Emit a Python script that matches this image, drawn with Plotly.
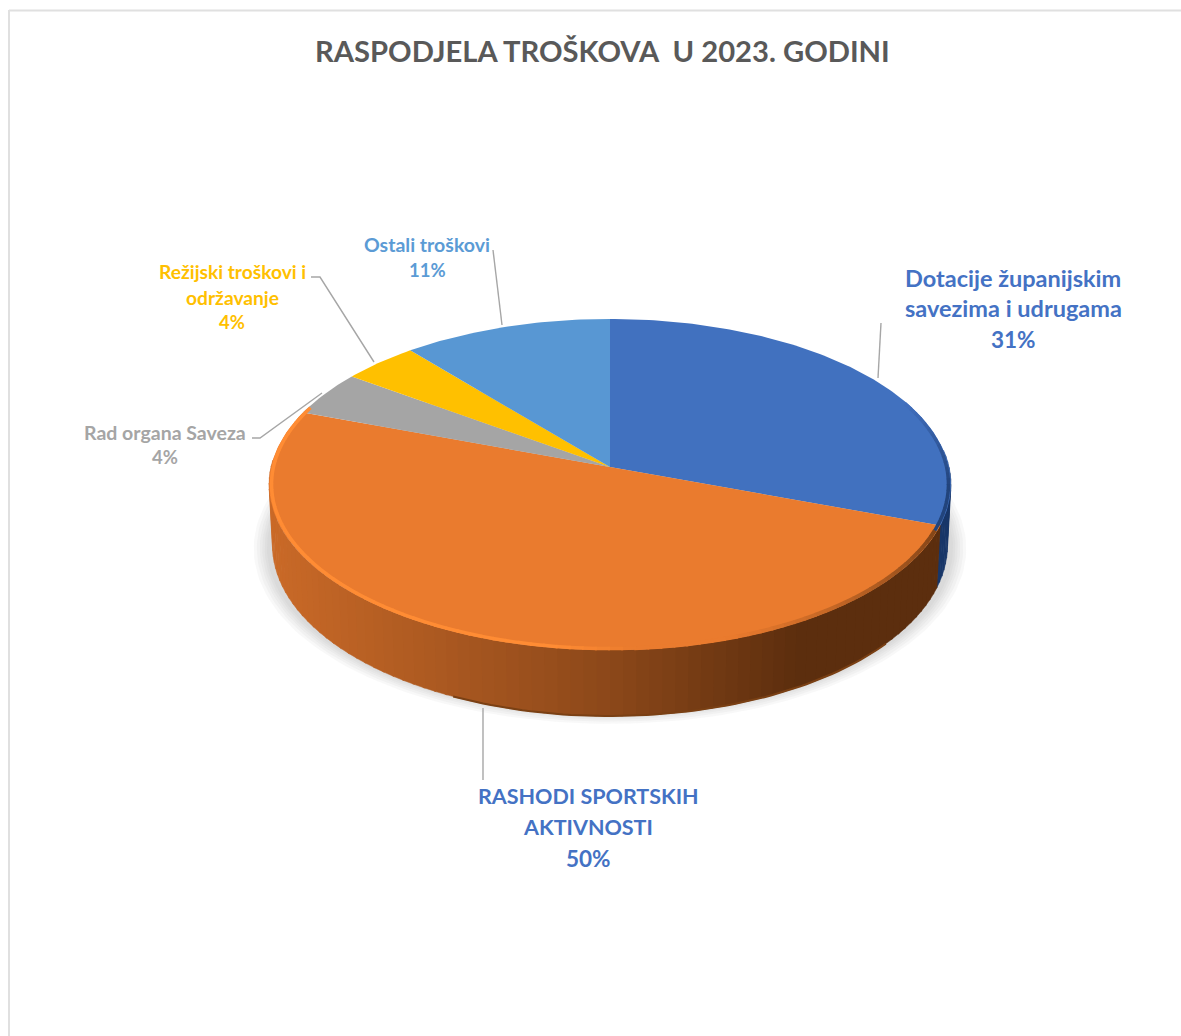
import numpy as np
import plotly.graph_objects as go

# ---- data ----
categories = ["Dotacije županijskim savezima i udrugama", "RASHODI SPORTSKIH AKTIVNOSTI",
              "Rad organa Saveza", "Režijski troškovi i održavanje", "Ostali troškovi"]
values = [30.6, 50.0, 4.4, 4.0, 11.0]
slice_colors = ["#4171BF", "#EA7B2E", "#A5A5A5", "#FFC000", "#5897D3"]
title_text = "RASPODJELA TROŠKOVA  U 2023. GODINI"

# label layout: category index, text lines (the last line, the percent, is added from values)
label_lines = {
    0: ["Dotacije županijskim", "savezima i udrugama"],
    1: ["RASHODI SPORTSKIH", "AKTIVNOSTI"],
    2: ["Rad organa Saveza"],
    3: ["Režijski troškovi i", "održavanje"],
    4: ["Ostali troškovi"],
}
label_pos = {0: (1013, [278, 308, 339]), 1: (588, [796, 827, 858]), 2: (165, [432, 457]),
             3: (232, [271, 297, 322]), 4: (427, [244, 270])}
label_color = {0: "#4472C4", 1: "#4472C4", 2: "#A5A5A5", 3: "#FFC000", 4: "#5B9BD5"}
label_size = {0: 23.5, 1: 21.5, 2: 19.5, 3: 19.2, 4: 19.5}
percent_size = {0: 22.5, 1: 22.5, 2: 18.5, 3: 18.5, 4: 18.5}
leaders = [[(878, 378), (881, 323)], [(483, 708), (483, 780)],
           [(252, 438), (260, 438), (322, 393)], [(311, 277), (320, 277), (374, 362)],
           [(493, 250), (502, 325)]]

# ---- projection of the tilted disc ----
CX, CY, R, K, P = 610, 467, 339, 163.7, 0.1057
BOTTOM_X = 0.99


def proj(theta_deg, r=1.0, dy=0.0, sx=1.0):
    t = np.radians(theta_deg)
    u, v = r * np.sin(t), -r * np.cos(t)
    s = 1 / (1 - P * v)
    return CX + R * u * s * sx, CY + K * v * s + dy


def wall_dy(theta_deg):
    v = -np.cos(np.radians(theta_deg))
    return 60 + 6 * np.maximum(v, 0)


def mix(a, b, f):
    f = float(np.clip(f, 0, 1))
    c = [a[i] + (b[i] - a[i]) * f for i in range(3)]
    return "rgb(%d,%d,%d)" % tuple(c)


def poly(x, y, color, line=0):
    return go.Scatter(x=list(x), y=list(y), mode="lines", fill="toself", fillcolor=color,
                      line=dict(width=line, color=color), hoverinfo="skip", showlegend=False)


fig = go.Figure()

edges = 360 * np.cumsum([0] + values) / sum(values)

# soft shadow under the disc
full = np.linspace(0, 360, 241)
for grow in [1.045, 1.036, 1.027, 1.02, 1.013, 1.006]:
    x, y = proj(full, r=1.0)
    x = CX + (x - CX) * grow
    y = (CY + 62) + (y - CY) * (1 + (grow - 1) * 1.3) + 1
    fig.add_trace(poly(x, y, "rgba(150,150,150,0.07)"))

# side wall, coloured by horizontal position
step = 2.0
th_vis = np.arange(84, 272, step)
for a in th_vis:
    b = a + step + 0.4
    ts = np.linspace(a, b, 3)
    xt, yt = proj(ts)
    xb, yb = proj(ts, dy=wall_dy(ts), sx=BOTTOM_X)
    xm = xt.mean()
    if a + step / 2 < edges[1]:
        col = mix((50, 90, 160), (24, 54, 104), (a - 80) / 16)
    else:
        if xm > 800:
            col = "rgb(92,46,14)"
        elif xm > 610:
            col = mix((92, 46, 14), (140, 72, 26), (800 - xm) / 190)
        else:
            col = mix((140, 72, 26), (202, 106, 40), (610 - xm) / 340)
    fig.add_trace(poly(np.r_[xt, xb[::-1]], np.r_[yt, yb[::-1]], col, 0.5))

# darker contact line along the bottom of the wall
ts = np.linspace(205, 130, 60)
xb, yb = proj(ts, dy=wall_dy(ts), sx=BOTTOM_X)
fig.add_trace(go.Scatter(x=xb, y=yb, mode="lines", line=dict(color="#7A4014", width=2),
                         hoverinfo="skip", showlegend=False))

# top face slices
for i, val in enumerate(values):
    ts = np.linspace(edges[i], edges[i + 1], max(int(val * 4), 8))
    x, y = proj(ts)
    fig.add_trace(poly(np.r_[CX, x, CX], np.r_[CY, y, CY], slice_colors[i]))

# bevel along the rim
for a in np.arange(66, 292, 2.0):
    ts = np.linspace(a, a + 2.3, 3)
    x, y = proj(ts, r=0.993)
    if a < edges[1]:
        col = mix((64, 110, 188), (34, 68, 124), (a - 66) / 30)
        w = 3.5
    elif a < 175:
        col = mix((130, 68, 24), (234, 123, 46), (a - edges[1]) / 50)
        w = 4
    else:
        col = mix((234, 123, 46), (255, 140, 52), (a - 175) / 12)
        w = 3.5
    fig.add_trace(go.Scatter(x=x, y=y, mode="lines", line=dict(color=col, width=w),
                             hoverinfo="skip", showlegend=False))

# leader lines
for pts in leaders:
    fig.add_trace(go.Scatter(x=[p[0] for p in pts], y=[p[1] for p in pts], mode="lines",
                             line=dict(color="#A6A6A6", width=1.4),
                             hoverinfo="skip", showlegend=False))

# labels
FONT = "Lato, Carlito, Calibri, sans-serif"
for i, lines in label_lines.items():
    texts = lines + ["%d%%" % round(values[i])]
    sizes = [label_size[i]] * len(lines) + [percent_size[i]]
    xc, ys = label_pos[i]
    for t, yy, sz in zip(texts, ys, sizes):
        fig.add_annotation(x=xc, y=yy, text="<b>%s</b>" % t, showarrow=False, xanchor="center",
                           yanchor="middle", font=dict(family=FONT, size=sz, color=label_color[i]))

fig.add_annotation(x=602, y=50, text="<b>%s</b>" % title_text, showarrow=False, xanchor="center",
                   yanchor="middle", font=dict(family=FONT, size=29.2, color="#595959"))

# frame of the chart area
fig.add_shape(type="line", x0=9, x1=1181, y0=10.5, y1=10.5, line=dict(color="#E0E0E0", width=2))
fig.add_shape(type="line", x0=9, x1=9, y0=10, y1=1036, line=dict(color="#E0E0E0", width=2))

fig.update_layout(width=1181, height=1036, margin=dict(l=0, r=0, t=0, b=0),
                  paper_bgcolor="white", plot_bgcolor="white", showlegend=False,
                  xaxis=dict(range=[0, 1181], visible=False, fixedrange=True),
                  yaxis=dict(range=[1036, 0], visible=False, fixedrange=True))

fig.write_html("out.html", config={"displayModeBar": False},
               post_script="document.body.style.margin='0';document.body.style.overflow='hidden';")
